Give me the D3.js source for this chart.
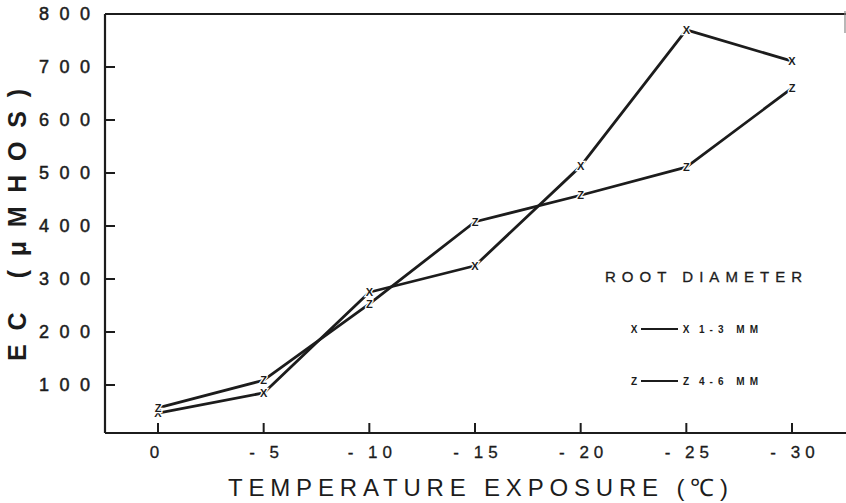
<!DOCTYPE html>
<html><head><meta charset="utf-8">
<script src="https://cdn.jsdelivr.net/npm/d3@7"></script>
<style>
html,body{margin:0;padding:0;background:#fff;}
svg{display:block;font-family:"Liberation Sans",Arial,sans-serif;}
</style></head>
<body>
<svg id="chart" width="846" height="503"></svg>
<script>
const temps = [0, -5, -10, -15, -20, -25, -30];
const xTickLabels = ["0", "-5", "-10", "-15", "-20", "-25", "-30"];
const yTicks = [100, 200, 300, 400, 500, 600, 700, 800];
const yTickLabels = ["100", "200", "300", "400", "500", "600", "700", "800"];
const series1to3 = [47, 85, 275, 325, 513, 770, 711];   // X  1-3 MM
const series4to6 = [57, 109, 253, 408, 458, 511, 660];  // Z  4-6 MM
const seriesNames = ["1-3  MM", "4-6  MM"];
const seriesMarks = ["X", "Z"];

const svg = d3.select("#chart");
const ink = "#1c1c1c";
const x = d3.scaleLinear().domain([0, -30]).range([158, 792]);
const y = d3.scaleLinear().domain([0, 800]).range([438, 14]);
const left = 105, right = 846, bottomY = 433, topY = 14;

// frame: left axis, top line, bottom axis
svg.append("line").attr("x1", left).attr("x2", left).attr("y1", topY).attr("y2", bottomY)
  .attr("stroke", ink).attr("stroke-width", 2.2);
svg.append("line").attr("x1", left).attr("x2", right).attr("y1", topY).attr("y2", topY)
  .attr("stroke", ink).attr("stroke-width", 2);
svg.append("line").attr("x1", 845).attr("x2", 845).attr("y1", 11).attr("y2", 33)
  .attr("stroke", "#888").attr("stroke-width", 1.2);
svg.append("line").attr("x1", left).attr("x2", right).attr("y1", bottomY).attr("y2", bottomY)
  .attr("stroke", ink).attr("stroke-width", 2.2);

// y ticks + labels
yTicks.forEach((v, i) => {
  svg.append("line").attr("x1", left).attr("x2", left + 10).attr("y1", y(v)).attr("y2", y(v))
    .attr("stroke", ink).attr("stroke-width", 2);
  svg.append("text").attr("x", 90).attr("y", y(v)).attr("dy", "0.36em")
    .attr("text-anchor", "end").attr("font-size", 18).attr("fill", ink)
    .attr("stroke", ink).attr("stroke-width", 0.5)
    .attr("textLength", 51).attr("lengthAdjust", "spacing")
    .text(yTickLabels[i]);
});

// x ticks + labels
temps.forEach((t, i) => {
  svg.append("line").attr("x1", x(t)).attr("x2", x(t)).attr("y1", bottomY).attr("y2", bottomY - 10)
    .attr("stroke", ink).attr("stroke-width", 2);
  const lab = xTickLabels[i];
  svg.append("text").attr("x", x(t) + (i === 0 ? -1 : 3)).attr("y", 458)
    .attr("text-anchor", "middle").attr("font-size", 17).attr("fill", ink)
    .attr("stroke", ink).attr("stroke-width", 0.3)
    .attr("letter-spacing", 5).text(lab.replace("-", "- "));
});

// axis titles
svg.append("text").attr("transform", "translate(26,225) rotate(-90)")
  .attr("text-anchor", "middle").attr("font-size", 25).attr("font-weight", "bold")
  .attr("fill", ink).attr("textLength", 272).attr("lengthAdjust", "spacing")
  .text("EC (\u03bcMHOS)");
svg.append("text").attr("x", 228).attr("y", 496)
  .attr("font-size", 24).attr("fill", ink)
  .attr("textLength", 500).attr("lengthAdjust", "spacing")
  .text("TEMPERATURE EXPOSURE (\u2103)");

// lines
const line = d3.line().x((d, i) => x(temps[i])).y(d => y(d)).curve(d3.curveLinear);
[series1to3, series4to6].forEach((s) => {
  svg.append("path").datum(s).attr("d", line).attr("fill", "none")
    .attr("stroke", ink).attr("stroke-width", 2.8).attr("stroke-linejoin", "round");
});
[series1to3, series4to6].forEach((s, k) => {
  svg.selectAll(null).data(s).enter().append("text")
    .attr("x", (d, i) => x(temps[i])).attr("y", d => y(d)).attr("dy", "0.36em")
    .attr("text-anchor", "middle").attr("font-size", 11).attr("font-weight", "bold")
    .attr("fill", ink).attr("stroke", "#fff").attr("stroke-width", 2.5)
    .attr("paint-order", "stroke")
    .text(seriesMarks[k]);
});

// legend
svg.append("text").attr("x", 605).attr("y", 282).attr("font-size", 15).attr("fill", ink)
  .attr("stroke", ink).attr("stroke-width", 0.3)
  .attr("textLength", 197).attr("lengthAdjust", "spacing").text("ROOT DIAMETER");
const legY = [329, 381];
seriesMarks.forEach((m, k) => {
  const g = svg.append("g");
  g.append("text").attr("x", 634).attr("y", legY[k]).attr("dy", "0.36em").attr("text-anchor", "middle")
    .attr("font-size", 10).attr("font-weight", "bold").attr("fill", ink).text(m);
  g.append("line").attr("x1", 641).attr("x2", 678).attr("y1", legY[k]).attr("y2", legY[k])
    .attr("stroke", ink).attr("stroke-width", 2);
  g.append("text").attr("x", 686).attr("y", legY[k]).attr("dy", "0.36em").attr("text-anchor", "middle")
    .attr("font-size", 10).attr("font-weight", "bold").attr("fill", ink).text(m);
  g.append("text").attr("x", 699).attr("y", legY[k]).attr("dy", "0.36em")
    .attr("font-size", 10).attr("font-weight", "bold").attr("fill", ink)
    .attr("textLength", 59).attr("lengthAdjust", "spacing").text(seriesNames[k]);
});
</script>
</body></html>
